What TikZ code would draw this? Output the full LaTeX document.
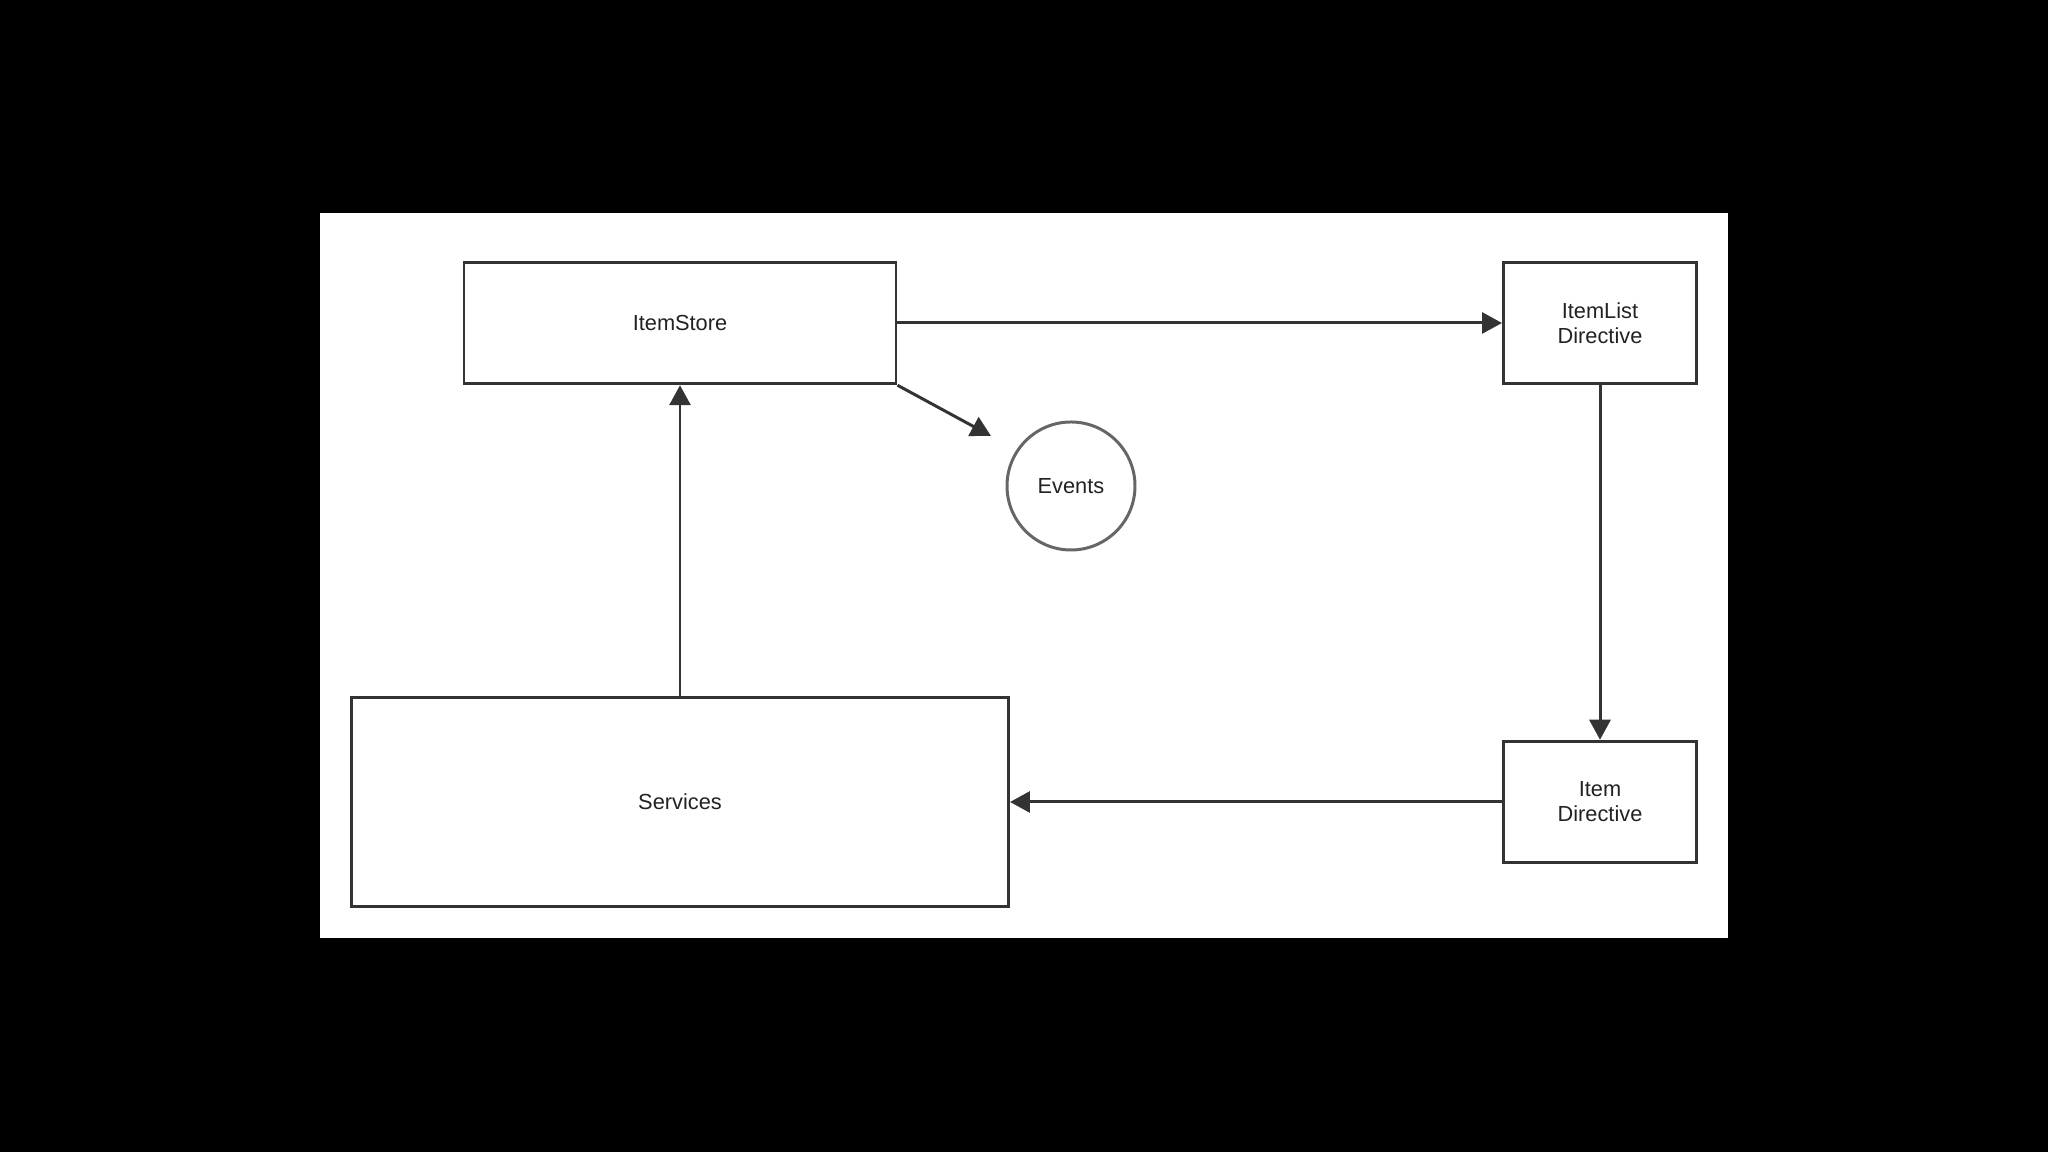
\documentclass[tikz,border=0pt]{standalone}
\usepackage{fontspec}
\setmainfont{Liberation Sans}
\usetikzlibrary{arrows.meta,positioning}

\definecolor{linegray}{HTML}{333333}
\definecolor{ringgray}{HTML}{666666}
\definecolor{textgray}{HTML}{222222}

\begin{document}
\begin{tikzpicture}[
    box/.style={rectangle, draw=linegray, line width=0.85pt, fill=white, inner sep=0pt, align=center, text=textgray, font=\fontsize{6.2}{7.1}\selectfont},
    ring/.style={circle, draw=ringgray, line width=0.85pt, fill=white, inner sep=0pt, minimum size=1.28cm, text=textgray, font=\fontsize{6.2}{7.1}\selectfont},
    flow/.style={draw=linegray, line width=0.85pt, -{Triangle[length=0.2cm, width=0.21cm]}}
]

% Frame
\useasboundingbox (0,0) rectangle (20.48,11.52);
\fill[black] (0,0) rectangle (20.48,11.52);
\fill[white] (3.20,2.14) rectangle (17.28,9.39);

% Nodes
\node[box, minimum width=4.32cm, minimum height=1.215cm] (store) at (6.80,8.29) {ItemStore};
\node[box, minimum width=1.93cm, minimum height=1.215cm] (list) at (16.00,8.29) {ItemList\\Directive};
\node[box, minimum width=1.93cm, minimum height=1.215cm] (item) at (16.00,3.50) {Item\\Directive};
\node[box, minimum width=6.57cm, minimum height=2.09cm] (services) at (6.80,3.50) {Services};
\node[ring] (events) at (10.71,6.66) {Events};
\coordinate (emit) at (9.91,7.16);

% Edges
\draw[flow] (store.east) -- (list.west);
\draw[flow] (list.south) -- (item.north);
\draw[flow] (item.west) -- (services.east);
\draw[flow] (services.north) -- (store.south);
\draw[flow] (store.south east) -- (emit);

\end{tikzpicture}
\end{document}
